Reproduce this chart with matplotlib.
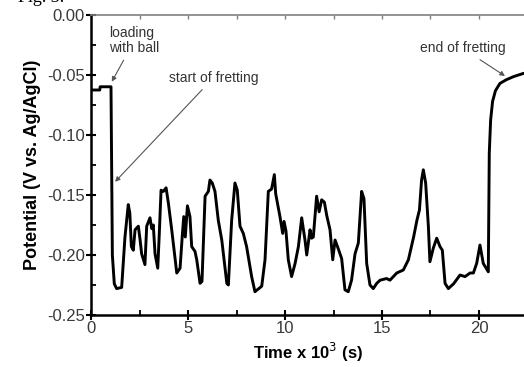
import matplotlib

matplotlib.use("Agg")
import matplotlib.pyplot as plt
from matplotlib.ticker import MultipleLocator

# time in units of 10^3 s, potential in V vs. Ag/AgCl
time_ks = [
    0.0, 0.45, 0.47, 1.03, 1.06, 1.10, 1.20, 1.32, 1.58, 1.75, 1.92, 2.00,
    2.08, 2.18, 2.27, 2.44, 2.53, 2.61, 2.78, 2.87, 3.04, 3.13, 3.21, 3.30,
    3.44, 3.52, 3.61, 3.73, 3.87, 3.99, 4.16, 4.42, 4.59, 4.70, 4.78, 4.86,
    4.97, 5.10, 5.19, 5.36, 5.45, 5.62, 5.72, 5.88, 6.05, 6.13, 6.25, 6.39,
    6.56, 6.74, 7.00, 7.08, 7.25, 7.42, 7.54, 7.68, 7.85, 8.02, 8.28, 8.45,
    8.80, 8.97, 9.14, 9.31, 9.45, 9.52, 9.74, 9.88, 9.95, 10.05, 10.17, 10.34,
    10.52, 10.69, 10.86, 11.03, 11.12, 11.29, 11.37, 11.46, 11.63, 11.76,
    11.89, 12.03, 12.15, 12.32, 12.46, 12.58, 12.75, 12.92, 13.09, 13.26,
    13.43, 13.61, 13.78, 13.95, 14.07, 14.21, 14.38, 14.55, 14.73, 14.90,
    15.24, 15.41, 15.76, 16.10, 16.36, 16.63, 16.80, 16.93, 17.04, 17.13,
    17.25, 17.39, 17.47, 17.65, 17.82, 17.99, 18.11, 18.25, 18.42, 18.69,
    19.02, 19.28, 19.54, 19.71, 19.88, 20.05, 20.22, 20.48, 20.53, 20.60,
    20.70, 20.85, 21.08, 21.40, 21.77, 22.30,
]
potential = [
    -0.0625, -0.0625, -0.0598, -0.0598, -0.120, -0.200, -0.224, -0.228,
    -0.227, -0.185, -0.158, -0.165, -0.193, -0.196, -0.179, -0.176, -0.1875,
    -0.199, -0.208, -0.176, -0.169, -0.178, -0.175, -0.199, -0.211, -0.182,
    -0.146, -0.147, -0.144, -0.157, -0.179, -0.215, -0.211, -0.185, -0.168,
    -0.185, -0.159, -0.168, -0.193, -0.197, -0.204, -0.2236, -0.222, -0.151,
    -0.147, -0.1375, -0.140, -0.147, -0.171, -0.1875, -0.2236, -0.225,
    -0.171, -0.140, -0.146, -0.176, -0.182, -0.193, -0.218, -0.2306, -0.226,
    -0.204, -0.147, -0.145, -0.133, -0.149, -0.168, -0.182, -0.172, -0.180,
    -0.204, -0.218, -0.207, -0.193, -0.169, -0.1875, -0.200, -0.179, -0.186,
    -0.185, -0.151, -0.164, -0.154, -0.156, -0.167, -0.179, -0.204, -0.1875,
    -0.195, -0.203, -0.229, -0.2306, -0.221, -0.199, -0.190, -0.147, -0.153,
    -0.207, -0.225, -0.228, -0.2236, -0.221, -0.2196, -0.221, -0.215,
    -0.2125, -0.204, -0.185, -0.171, -0.1625, -0.1375, -0.129, -0.140,
    -0.176, -0.2056, -0.194, -0.186, -0.193, -0.196, -0.2236, -0.228,
    -0.224, -0.2167, -0.218, -0.215, -0.215, -0.207, -0.1917, -0.207,
    -0.214, -0.115, -0.0875, -0.072, -0.063, -0.057, -0.054, -0.0514,
    -0.0486,
]

# annotations: label, text position, arrow tip
notes = [
    ("loading\nwith ball", (0.95, -0.009), (1.07, -0.0556)),
    ("start of fretting", (4.0, -0.0465), (1.24, -0.139)),
    ("end of fretting", (16.95, -0.022), (21.34, -0.0508)),
]

plt.rcParams["font.family"] = ["Liberation Sans", "DejaVu Sans"]

fig = plt.figure(figsize=(5.24, 3.67), dpi=100)
ax = fig.add_axes([0.1737, 0.1417, 0.8263, 0.8174])

ax.plot(time_ks, potential, color="black", lw=2.1,
        solid_joinstyle="round", solid_capstyle="round")

ax.set_xlim(0, 22.32)
ax.set_ylim(-0.25, 0.0)
ax.xaxis.set_major_locator(MultipleLocator(5))
ax.xaxis.set_minor_locator(MultipleLocator(2.5))
ax.yaxis.set_major_locator(MultipleLocator(0.05))
ax.yaxis.set_minor_locator(MultipleLocator(0.025))
ax.yaxis.set_major_formatter(plt.FuncFormatter(lambda v, p: f"{v:.2f}"))

ax.tick_params(which="major", direction="inout", length=7, width=1.5,
               labelsize=12, labelcolor="#3a3a3a", color="black", pad=1)
ax.tick_params(which="minor", direction="in", length=3.5, width=1.3,
               color="black")

for side in ("left", "bottom"):
    ax.spines[side].set_linewidth(1.8)
ax.spines["right"].set_visible(False)
ax.spines["top"].set_color("#808080")
ax.spines["top"].set_linewidth(1.2)

top = ax.secondary_xaxis("top")
top.xaxis.set_major_locator(MultipleLocator(5))
top.xaxis.set_minor_locator(MultipleLocator(2.5))
top.tick_params(which="both", direction="in", length=3, width=1.0,
                color="#808080", labeltop=False)
top.spines["top"].set_visible(False)

ax.set_xlabel("Time x 10$^3$ (s)", fontsize=12, fontweight="bold",
              labelpad=3)
ax.set_ylabel("Potential (V vs. Ag/AgCl)", fontsize=13, fontweight="bold",
              labelpad=4)

for label, xy_text, xy_tip in notes:
    ax.annotate(label, xy=xy_tip, xytext=xy_text, fontsize=10,
                color="#333333", ha="left", va="top", linespacing=1.1,
                arrowprops=dict(arrowstyle="-|>", color="#555555", lw=0.8,
                                mutation_scale=7, shrinkA=2, shrinkB=0))

# caption above the chart, cropped by the top edge as in the source
fig.text(0.035, 0.995, "Fig. 3.", family="Liberation Serif", fontsize=13,
         va="baseline", ha="left")

fig.savefig("out.png", dpi=100)
